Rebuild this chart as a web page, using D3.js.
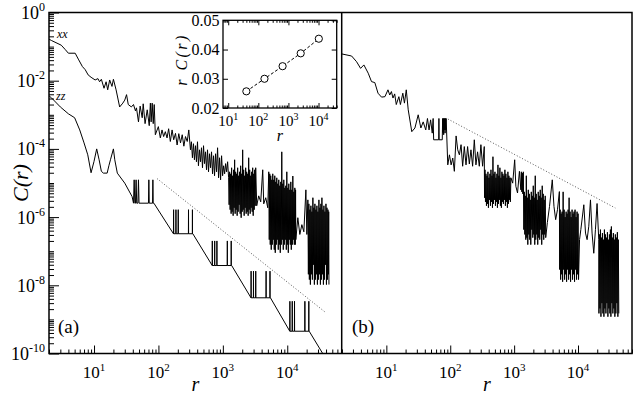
<!DOCTYPE html>
<html>
<head>
<meta charset="utf-8">
<script src="https://cdn.jsdelivr.net/npm/d3@7"></script>
<style>
  body { margin: 0; background: #fff; }
</style>
</head>
<body>
<div id="chart"></div>
<script>
// ---- data: [r, C(r)] ----
const xxLeft = [
  [2,0.165],[2.2,0.15],[3.1,0.11],[3.55,0.083],[4,0.064],[5.1,0.064],[5.7,0.043],[6.6,0.026],[7.3,0.021],[8.1,0.0148],
  [9,0.0126],[10.4,0.0105],[11.5,0.0115],[12.2,0.0093],[13,0.011],[14.3,0.006],[15.4,0.0093],[16.3,0.0054],[17.5,0.0105],
  [19,0.0068],[20,0.011],[22,0.0054],[25,0.0017],[28,0.0022],[30,0.0027],[32,0.0039],[34,0.002],[38,0.0017],[41,0.002],[44,0.0013],
  [45.6,1.6e-3],[49,6.2e-4],[52,1.8e-3],[56,8.2e-4],[58,2.1e-3],[62,5.5e-4],[67,1.4e-3],[72,4.8e-4],[75,2.2e-3],[77,6.2e-4],
  [80,2.2e-3],[83,5.5e-4],[86,2.0e-3],
  [89.5,2.6e-4],[99.7,4.5e-4],[107,2.1e-4],[113.7,3.6e-4],[120.5,2.3e-4],[128,3.2e-4],[136,2.1e-4],[144,3.9e-4],[153,1.65e-4],
  [163,3.6e-4],[172.5,1.85e-4],[184,2.85e-4],[195,1.3e-4],[207,2.8e-4],[220,1.5e-4],[234,2.6e-4],[248,1.2e-4],[263,2.3e-4],
  [280,1.65e-4],[296,3.6e-4],
  [314,9.4e-5],[325,1.62e-4],[337,5.5e-5],[350,1.42e-4],[362,4.8e-5],[376,1.24e-4],[389,4.2e-5],[404,1.62e-4],[418,3.2e-5],
  [434,9.4e-5],[450,4.2e-5],[466,1.08e-4],[483,2.8e-5],[501,1.24e-4],[519,3.7e-5],[538,8.2e-5],[558,2.44e-5],[578,9.4e-5],
  [599,2.13e-5],[621,7.2e-5],[644,2.8e-5],[667,8.2e-5],[692,1.86e-5],[717,6.3e-5],[743,1.63e-5],[771,7.2e-5],[799,2.13e-5],
  [828,1.08e-4],[858,1.42e-5],[890,5.5e-5],[922,1.24e-5],[956,6.3e-5],[991,1.63e-5],[1027,3.2e-5],[1065,1.86e-5],[1104,3.7e-5],
  [1144,2.13e-5],[1186,4.2e-5],[1229,1.42e-5],
  [1251,2.3e-6],[1274,2.13e-5],[1297,1.65e-6],[1320,1.86e-5],[1344,1.26e-6],[1368,2.8e-5],[1393,1.44e-6],[1418,1.63e-5],
  [1444,1.1e-6],[1470,2.44e-5],[1497,1.88e-6],[1524,4.8e-5],[1552,1.26e-6],[1580,2.13e-5],[1608,1.65e-6],[1637,1.86e-5],
  [1667,1.1e-6],[1697,2.8e-5],[1728,1.44e-6],[1759,1.63e-5],[1791,2.3e-6],[1823,2.13e-5],[1856,1.26e-6],[1890,3.2e-5],
  [1924,9.6e-7],[1959,1.86e-5],[1994,1.44e-6],[2030,9.4e-5],[2067,1.65e-6],[2104,2.44e-5],[2142,1.1e-6],[2181,1.63e-5],
  [2220,1.88e-6],[2260,2.8e-5],[2301,1.26e-6],[2343,2.13e-5],[2385,1.44e-6],[2428,1.86e-5],[2472,1.1e-6],[2517,5.5e-5],
  [2563,1.65e-6],[2609,2.44e-5],[2656,1.26e-6],[2705,1.63e-5],[2754,1.88e-6],[2803,2.13e-5],[2854,1.44e-6],[2906,2.8e-5],
  [2959,1.1e-6],[3012,1.86e-5],[3067,1.65e-6],[3122,2.44e-5],[3179,2.15e-6],[3236,2.8e-5],
  [3354,2.15e-6],[3603,4.2e-6],[3873,2.8e-6],[4160,2.44e-5],[4312,2.45e-6],[4634,3.7e-6],[4978,1.88e-6],[5160,2.13e-5],
  [5254,2.18e-7],[5348,1.86e-5],[5444,1.56e-7],[5540,1.63e-5],[5642,1.11e-7],[5745,1.24e-5],[5850,1.56e-7],[5955,1.86e-5],
  [6063,2.18e-7],[6172,1.24e-5],[6284,1.11e-7],[6397,1.63e-5],[6513,9e-8],[6630,1.08e-5],[6750,1.56e-7],[6872,1.42e-5],
  [6997,2.18e-7],[7123,9.5e-6],[7252,1.11e-7],[7383,1.24e-5],[7517,1.56e-7],[7652,8.3e-6],[7790,9e-8],[7930,1.08e-5],
  [8074,1.56e-7],[8220,8.2e-5],[8369,2.18e-7],[8520,9.5e-6],[8674,1.11e-7],[8831,1.24e-5],[8991,1.56e-7],[9153,7.2e-6],
  [9320,2.18e-7],[9490,8.3e-6],[9662,1.11e-7],[9836,2.13e-5],[10014,1.56e-7],[10195,7.2e-6],[10380,9e-8],[10567,9.5e-6],
  [10758,2.18e-7],[10953,6.3e-6],[11150,1.56e-7],[11350,1.08e-5],[11555,1.11e-7],[11765,6.3e-6],[11978,1.56e-7],[12195,1.6e-5],
  [12416,2.18e-7],[12640,5.5e-6],[12868,1.56e-7],[13100,7.2e-6],[13337,1.56e-7],[13460,6.3e-6],[13580,2.18e-7],
  [14590,9.6e-7],[15675,3.1e-7],[16840,6.0e-7],[18090,3.7e-7],[19450,6.3e-6],[20150,3.1e-7],[20890,3.2e-6],
  [21270,2.1e-8],[21650,2.45e-6],[22040,1.47e-8],[22440,1.65e-6],[22850,1.05e-8],[23270,2.15e-6],[23690,2.1e-8],[24110,1.44e-6],
  [24550,1.47e-8],[24990,3.7e-6],[25440,4e-8],[25900,1.88e-6],[26370,1.05e-8],[26850,2.45e-6],[27340,1.47e-8],[27840,1.65e-6],
  [28340,2.1e-8],[28850,2.15e-6],[29370,1.05e-8],[29900,1.44e-6],[30450,1.47e-8],[31000,3.2e-6],[31560,2.1e-8],[32130,1.88e-6],
  [32710,1.05e-8],[33300,2.45e-6],[33900,1.47e-8],[34500,3.7e-6],[35130,2.1e-8],[35770,1.65e-6],[36410,1.05e-8],[37070,2.15e-6],
  [37740,1.47e-8],[38420,1.44e-6],[39130,4e-8],[39850,2.45e-6],[40570,1.05e-8],[41300,1.88e-6],[42050,1.47e-8],[42800,1.65e-6],
  [43580,2.1e-8],[44000,1.44e-6],[44370,1.05e-8]
];

const zzLeft = [
  [2,3.6e-3],[2.2,3.1e-3],[3,1.7e-3],[4,1.07e-3],[5,8.2e-4],[6,3.6e-4],[7,1.5e-4],[8,6.7e-5],[9,2.0e-5],[10,4.3e-5],
  [11,1.0e-4],[12,4.8e-5],[13,2.2e-5],[14,1.95e-5],[16,1.95e-5],[17,3.2e-5],[18,4.8e-5],[20,1.0e-4],[21,4.8e-5],[23,1.95e-5],
  [30,9.9e-6],[39,4.0e-6],
  [41,2.56e-6],[42,1.24e-5],[43,2.56e-6],[44,2.56e-6],[45,1.24e-5],[46,2.56e-6],[48,2.56e-6],[49,1.24e-5],[50,2.56e-6],
  [70,2.56e-6],[71,1.24e-5],[72,2.56e-6],[81,2.56e-6],[82,1.24e-5],[83,2.56e-6],[85,2.56e-6],
  [171,3.25e-7],[172,1.65e-6],[173,3.25e-7],[186,3.25e-7],[187,1.65e-6],[188,3.25e-7],[202,3.25e-7],[203,1.65e-6],[204,3.25e-7],
  [292,3.25e-7],[293,1.65e-6],[294,3.25e-7],[336,3.25e-7],[337,1.65e-6],[338,3.25e-7],[342,3.25e-7],
  [684,3.8e-8],[686,2.0e-7],[688,3.8e-8],[745,3.8e-8],[747,2.0e-7],[749,3.8e-8],[807,3.8e-8],[809,2.0e-7],[811,3.8e-8],
  [1170,3.8e-8],[1173,2.0e-7],[1176,3.8e-8],[1345,3.8e-8],[1348,2.0e-7],[1351,3.8e-8],[1370,3.8e-8],
  [2736,4.3e-9],[2745,2.6e-8],[2754,4.3e-9],[2980,4.3e-9],[2989,2.6e-8],[2998,4.3e-9],[3230,4.3e-9],[3240,2.6e-8],[3250,4.3e-9],
  [4680,4.3e-9],[4692,2.6e-8],[4704,4.3e-9],[5380,4.3e-9],[5392,2.6e-8],[5404,4.3e-9],[5480,4.3e-9],
  [10944,4.5e-10],[10980,3.4e-9],[11016,4.5e-10],[11920,4.5e-10],[11956,3.4e-9],[11992,4.5e-10],[12920,4.5e-10],[12960,3.4e-9],
  [13000,4.5e-10],[18720,4.5e-10],[18770,3.4e-9],[18820,4.5e-10],[21560,4.5e-10],[21610,3.4e-9],[21660,4.5e-10],[21900,4.5e-10],
  [43800,5.2e-11]
];

const xxRight = [
  [2,0.061],[2.86,0.053],[3.42,0.036],[3.95,0.023],[4.45,0.029],[5.2,0.0166],[5.86,0.0094],[6.6,0.0088],[7.4,0.0043],[8.4,0.0033],
  [9.5,0.0034],[10.6,0.0054],[11.3,0.0038],[12,0.0048],[12.7,0.0031],[13.5,0.0041],[14.3,0.002],[15.7,0.0034],[16.6,0.002],
  [18.1,0.0043],[19.2,0.0022],[20.5,0.0054],[22,0.0014],[25,3.2e-4],[28,4.1e-4],[31.5,1.0e-3],[34.7,4.1e-4],[37.7,6.2e-4],
  [41.4,3.6e-4],[44,7.8e-4],[46.6,3.6e-4],[49.3,7.1e-4],[52.3,2.9e-4],
  [54,7.8e-4],[55,1.85e-4],[66,1.85e-4],[66.5,7.8e-4],[67,1.85e-4],[75,1.85e-4],[76,7.8e-4],[77,3.0e-4],[78,7.8e-4],[79,2.6e-4],
  [80,7.8e-4],[81,3.6e-4],[82,7.8e-4],[83,2.9e-4],[84,7.8e-4],[85,3.6e-4],[86.3,7.8e-4],
  [91.5,3.4e-5],[97.2,6.7e-5],[103.3,3.4e-5],[109.5,5.4e-5],[116,2.2e-5],[123.5,2.4e-4],[131,9.4e-5],[139,6.7e-5],[147.7,1.33e-4],
  [156.4,3.1e-5],[166,1.17e-4],[176.6,3.4e-5],[187,1.17e-4],[199,3.6e-5],[211,9.4e-5],[224,3.1e-5],[238,1.85e-4],[252.6,3.4e-5],
  [268,8.2e-5],[285,3.1e-5],[302,1.33e-4],[321,3.1e-5],[341,1.17e-4],
  [344,3.7e-6],[350,2.44e-5],[356,2.8e-6],[362,1.86e-5],[369,2.15e-6],[376,1.63e-5],[382,2.45e-6],[389,2.13e-5],[396,1.88e-6],
  [404,1.42e-5],[411,3.2e-6],[418,1.86e-5],[426,2.15e-6],[434,2.44e-5],[442,2.8e-6],[450,1.63e-5],[458,1.88e-6],[466,5.9e-5],
  [474,2.45e-6],[483,1.86e-5],[492,3.2e-6],[501,2.13e-5],[510,2.15e-6],[519,1.42e-5],[528,2.8e-6],[538,1.86e-5],[548,1.88e-6],
  [558,3.4e-5],[568,2.45e-6],[578,1.63e-5],[588,3.2e-6],[599,2.8e-5],[610,2.15e-6],[621,1.42e-5],[632,1.88e-6],[644,2.13e-5],
  [655,2.8e-6],[667,1.86e-5],[679,2.45e-6],[692,1.63e-5],[704,3.2e-6],[717,2.44e-5],[730,2.15e-6],[743,1.86e-5],[757,2.8e-6],
  [771,1.42e-5],[785,1.88e-6],[799,2.13e-5],[813,2.45e-6],[828,1.63e-5],[843,3.2e-6],[858,1.42e-5],[874,2.8e-6],[890,1.42e-5],
  [950,9.9e-6],[1020,4.8e-5],[1065,8e-6],[1130,5.1e-6],[1210,2.2e-5],
  [1274,6.3e-6],[1297,2.13e-5],[1320,5.5e-6],[1344,1.95e-5],[1368,4.8e-6],[1393,2.13e-5],[1418,4.3e-7],[1444,5.5e-6],
  [1470,3.1e-7],[1497,4.2e-6],[1524,2.18e-7],[1552,1.63e-5],[1580,2.5e-7],[1608,3.7e-6],[1637,1.56e-7],[1667,6.3e-6],
  [1697,3.1e-7],[1728,4.8e-6],[1759,2.18e-7],[1791,3.2e-6],[1823,1.56e-7],[1856,5.5e-6],[1890,4.3e-7],[1924,4.2e-6],
  [1959,2.5e-7],[1994,8.3e-6],[2030,3.1e-7],[2067,3.7e-6],[2104,1.56e-7],[2142,1.63e-5],[2181,2.18e-7],[2220,4.8e-6],
  [2260,3.1e-7],[2301,3.2e-6],[2343,1.56e-7],[2385,5.5e-6],[2428,2.5e-7],[2472,4.2e-6],[2517,2.18e-7],[2563,6.3e-6],
  [2609,4.3e-7],[2656,3.7e-6],[2705,1.56e-7],[2754,8.3e-6],[2803,3.1e-7],[2854,4.8e-6],[2906,2.18e-7],[2959,3.2e-6],
  [3012,3.1e-7],[3067,4.2e-6],[3122,2.5e-7],
  [3315,7.0e-7],[3580,2.05e-6],[3955,1.24e-5],[4205,2.05e-6],[4470,8.4e-7],[4770,1.65e-6],[5110,5.6e-6],
  [5160,2.9e-8],[5254,1.65e-6],[5348,1.47e-8],[5444,1.26e-6],[5540,2.1e-8],[5642,1.44e-6],[5745,1.27e-8],[5850,5.5e-6],
  [5955,2.9e-8],[6063,1.65e-6],[6172,1.47e-8],[6284,1.0e-6],[6397,2.1e-8],[6513,1.44e-6],[6630,1.27e-8],[6750,1.26e-6],
  [6872,2.9e-8],[6997,1.65e-6],[7123,1.47e-8],[7252,3.7e-6],[7383,2.1e-8],[7517,1.44e-6],[7652,1.27e-8],[7790,1.0e-6],
  [7930,2.9e-8],[8074,1.65e-6],[8220,1.47e-8],[8369,1.26e-6],[8520,2.1e-8],[8674,1.44e-6],[8831,1.27e-8],[8991,1.65e-6],
  [9153,2.9e-8],[9320,1.0e-6],[9490,1.47e-8],[9662,1.44e-6],[9836,2.1e-8],[10014,1.26e-6],[10195,1.47e-8],
  [10567,2.18e-7],[11070,4.3e-7],[12330,2.3e-6],[13100,3.4e-7],[13880,2.18e-7],[14750,5.4e-7],[15675,3.2e-6],[16600,3.4e-7],
  [17650,8.7e-8],[18750,4.3e-7],[19880,2.5e-6],[21120,2.18e-7],
  [21270,1.5e-9],[21650,3.1e-7],[22040,2.1e-9],[22440,4.3e-7],[22850,1.2e-9],[23270,2.5e-7],[23690,3.0e-9],[24110,3.4e-7],
  [24550,1.5e-9],[24990,2.18e-7],[25440,1.2e-9],[25900,4.3e-7],[26370,2.1e-9],[26850,3.1e-7],[27340,1.5e-9],[27840,2.5e-7],
  [28340,3.0e-9],[28850,3.6e-7],[29370,1.2e-9],[29900,2.18e-7],[30450,2.1e-9],[31000,3.1e-7],[31560,1.5e-9],[32130,4.3e-7],
  [32710,1.2e-9],[33300,5.3e-7],[33900,3.0e-9],[34500,2.5e-7],[35130,1.5e-9],[35770,3.4e-7],[36410,2.1e-9],[37070,2.18e-7],
  [37740,1.2e-9],[38420,3.1e-7],[39130,1.5e-9],[39850,2.5e-7],[40570,3.0e-9],[41300,3.6e-7],[42050,1.2e-9],[42800,2.18e-7],
  [43500,1.5e-9]
];

// guide lines (dotted)
const guideLeft = [[95,1.35e-5],[40000,1.56e-9]];
const guideRight = [[92,7.5e-4],[38400,1.85e-6]];

// inset: r C(r)
const insetR = [40, 160, 640, 2560, 10240];
const insetRC = [0.0257, 0.0300, 0.0343, 0.0387, 0.0437];

// ticks
const xMajor = [10, 100, 1000, 10000];
const xMajorExp = ["1", "2", "3", "4"];
const yMajor = [1, 1e-2, 1e-4, 1e-6, 1e-8, 1e-10];
const yMajorExp = ["0", "-2", "-4", "-6", "-8", "-10"];
const insetYTicks = [0.02, 0.03, 0.04, 0.05];
const insetYLabels = ["0.02", "0.03", "0.04", "0.05"];

// ---- layout ----
const W = 635, H = 395;
const plotTop = 12.5, plotBot = 353.5;
const aL = 49, aR = 341.7, bR = 632;
const FONT = "'Liberation Serif', Tinos, 'Times New Roman', 'DejaVu Serif', serif";

const svg = d3.select("#chart").append("svg")
    .attr("width", W)
    .attr("height", H)
    .attr("font-family", FONT)
    .style("font-family", FONT);

// every text goes through here so the serif face is set on it directly
function txt(parent) {
    return parent.append("text").style("font-family", FONT).attr("fill", "#000");
}

const y = d3.scaleLog().domain([1e-10, 1]).range([plotBot, plotTop]);
const xa = d3.scaleLog().domain([2, 7e4]).range([aL, aR]);
const xb = d3.scaleLog().domain([2, 7e4]).range([aR, bR]);

let defs = svg.append("defs");
defs.append("clipPath").attr("id", "clipA").append("rect")
    .attr("x", aL).attr("y", plotTop).attr("width", aR - aL).attr("height", plotBot - plotTop);
defs.append("clipPath").attr("id", "clipB").append("rect")
    .attr("x", aR).attr("y", plotTop).attr("width", bR - aR).attr("height", plotBot - plotTop);

// minor tick values
let xMinor = [];
for (let e = 0; e <= 4; e++) {
    for (let k = 2; k <= 9; k++) {
        let v = k * Math.pow(10, e);
        if (v >= 2 && v <= 7e4) xMinor.push(v);
    }
}
let yMinor = [];
for (let e = -10; e < 0; e++) {
    for (let k = 1; k <= 9; k++) {
        let v = k * Math.pow(10, e);
        if (k == 1 && e % 2 == 0) continue;
        yMinor.push(v);
    }
}

function noDomain(g) { g.select(".domain").remove(); }

// x axes (ticks point inward)
[xa, xb].forEach(function(x) {
    svg.append("g").attr("transform", `translate(0,${plotBot})`)
        .call(d3.axisBottom(x).tickValues(xMinor).tickSize(-4).tickSizeOuter(0).tickFormat(""))
        .call(noDomain);
    svg.append("g").attr("transform", `translate(0,${plotBot})`)
        .call(d3.axisBottom(x).tickValues(xMajor).tickSize(-8).tickSizeOuter(0).tickFormat(""))
        .call(noDomain);

    xMajor.forEach(function(v, i) {
        let t = txt(svg)
            .attr("x", x(v))
            .attr("y", 378)
            .attr("text-anchor", "middle")
            .style("font-size", "17px");
        t.append("tspan").text("10");
        t.append("tspan").attr("dy", -7).style("font-size", "11px").text(xMajorExp[i]);
    });

    txt(svg)
        .attr("x", (x.range()[0] + x.range()[1]) / 2)
        .attr("y", 391)
        .attr("text-anchor", "middle")
        .style("font-size", "20px")
        .style("font-style", "italic")
        .text("r");
});

// y axis on left panel only
svg.append("g").attr("transform", `translate(${aL},0)`)
    .call(d3.axisLeft(y).tickValues(yMinor).tickSize(-5).tickSizeOuter(0).tickFormat(""))
    .call(noDomain);
svg.append("g").attr("transform", `translate(${aL},0)`)
    .call(d3.axisLeft(y).tickValues(yMajor).tickSize(-10).tickSizeOuter(0).tickFormat(""))
    .call(noDomain);

yMajor.forEach(function(v, i) {
    let t = txt(svg)
        .attr("x", 45)
        .attr("y", y(v) + 6.5)
        .attr("text-anchor", "end")
        .style("font-size", "18px");
    t.append("tspan").text("10");
    t.append("tspan").attr("dy", -8).style("font-size", "12px").text(yMajorExp[i]);
});

txt(svg)
    .attr("transform", `translate(28,${(plotTop + plotBot) / 2}) rotate(-90)`)
    .attr("text-anchor", "middle")
    .style("font-size", "22px")
    .style("font-style", "italic")
    .text("C(r)");

// curves
let lineA = d3.line().x(d => xa(d[0])).y(d => y(d[1]));
let lineB = d3.line().x(d => xb(d[0])).y(d => y(d[1]));

let gA = svg.append("g").attr("clip-path", "url(#clipA)");
let gB = svg.append("g").attr("clip-path", "url(#clipB)");

gA.append("path").datum(guideLeft)
    .attr("fill", "none").attr("stroke", "#555").attr("stroke-width", 1)
    .attr("stroke-dasharray", "1,2").attr("d", lineA);
gA.append("path").datum(xxLeft)
    .attr("fill", "none").attr("stroke", "#000").attr("stroke-width", 1).attr("d", lineA);
gA.append("path").datum(zzLeft)
    .attr("fill", "none").attr("stroke", "#000").attr("stroke-width", 1).attr("d", lineA);

gB.append("path").datum(guideRight)
    .attr("fill", "none").attr("stroke", "#555").attr("stroke-width", 1)
    .attr("stroke-dasharray", "1,2").attr("d", lineB);
gB.append("path").datum(xxRight)
    .attr("fill", "none").attr("stroke", "#000").attr("stroke-width", 1).attr("d", lineB);

// curve names and panel tags
txt(svg).attr("x", 57).attr("y", 37.5)
    .style("font-size", "12px").style("font-style", "italic").text("xx");
txt(svg).attr("x", 56).attr("y", 100)
    .style("font-size", "12px").style("font-style", "italic").text("zz");
txt(svg).attr("x", 58).attr("y", 333).style("font-size", "19px").text("(a)");
txt(svg).attr("x", 352).attr("y", 333).style("font-size", "19px").text("(b)");

// frame
svg.append("rect")
    .attr("x", aL).attr("y", plotTop).attr("width", bR - aL).attr("height", plotBot - plotTop)
    .attr("fill", "none").attr("stroke", "#000").attr("stroke-width", 1.5);
svg.append("line")
    .attr("x1", aR).attr("x2", aR).attr("y1", plotTop).attr("y2", plotBot)
    .attr("stroke", "#000").attr("stroke-width", 1.5);

// ---- inset ----
const iL = 223, iR = 336.7, iT = 20.3, iB = 108;
let xi = d3.scaleLog().domain([6.7, 40200]).range([iL, iR]);
let yi = d3.scaleLinear().domain([0.02, 0.05]).range([iB, iT]);

let inset = svg.append("g");
inset.append("rect")
    .attr("x", iL).attr("y", iT).attr("width", iR - iL).attr("height", iB - iT)
    .attr("fill", "#fff").attr("stroke", "#000").attr("stroke-width", 1.3);

let xiMinor = [];
for (let e = 0; e <= 4; e++) {
    for (let k = 2; k <= 9; k++) {
        let v = k * Math.pow(10, e);
        if (v >= 6.7 && v <= 40200) xiMinor.push(v);
    }
}

inset.append("g").attr("transform", `translate(0,${iB})`)
    .call(d3.axisBottom(xi).tickValues(xMajor).tickSize(-5).tickSizeOuter(0).tickFormat("")).call(noDomain);
inset.append("g").attr("transform", `translate(0,${iB})`)
    .call(d3.axisBottom(xi).tickValues(xiMinor).tickSize(-2.5).tickSizeOuter(0).tickFormat("")).call(noDomain);
inset.append("g").attr("transform", `translate(0,${iT})`)
    .call(d3.axisTop(xi).tickValues(xMajor).tickSize(-5).tickSizeOuter(0).tickFormat("")).call(noDomain);
inset.append("g").attr("transform", `translate(0,${iT})`)
    .call(d3.axisTop(xi).tickValues(xiMinor).tickSize(-2.5).tickSizeOuter(0).tickFormat("")).call(noDomain);
inset.append("g").attr("transform", `translate(${iL},0)`)
    .call(d3.axisLeft(yi).tickValues(insetYTicks).tickSize(-5).tickSizeOuter(0).tickFormat("")).call(noDomain);
inset.append("g").attr("transform", `translate(${iR},0)`)
    .call(d3.axisRight(yi).tickValues(insetYTicks).tickSize(-5).tickSizeOuter(0).tickFormat("")).call(noDomain);

insetYTicks.forEach(function(v, i) {
    txt(inset)
        .attr("x", 219.5)
        .attr("y", yi(v) + 5.5)
        .attr("text-anchor", "end")
        .style("font-size", "16px")
        .text(insetYLabels[i]);
});
xMajor.forEach(function(v, i) {
    let t = txt(inset)
        .attr("x", xi(v))
        .attr("y", 125.5)
        .attr("text-anchor", "middle")
        .style("font-size", "15px");
    t.append("tspan").text("10");
    t.append("tspan").attr("dy", -6).style("font-size", "10px").text(xMajorExp[i]);
});
txt(inset)
    .attr("x", (iL + iR) / 2).attr("y", 141)
    .attr("text-anchor", "middle")
    .style("font-size", "16px").style("font-style", "italic")
    .text("r");
txt(inset)
    .attr("transform", `translate(187,60.7) rotate(-90)`)
    .attr("text-anchor", "middle")
    .attr("textLength", 50)
    .attr("lengthAdjust", "spacing")
    .style("font-size", "16px").style("font-style", "italic")
    .text("r C(r)");

let insetPts = insetR.map((r, i) => [r, insetRC[i]]);
inset.append("path").datum(insetPts)
    .attr("fill", "none").attr("stroke", "#000").attr("stroke-width", 1)
    .attr("stroke-dasharray", "3,2")
    .attr("d", d3.line().x(d => xi(d[0])).y(d => yi(d[1])));
inset.selectAll("circle").data(insetPts).enter()
    .append("circle")
    .attr("cx", d => xi(d[0]))
    .attr("cy", d => yi(d[1]))
    .attr("r", 3.6)
    .attr("fill", "#fff")
    .attr("stroke", "#000")
    .attr("stroke-width", 1);
</script>
</body>
</html>
